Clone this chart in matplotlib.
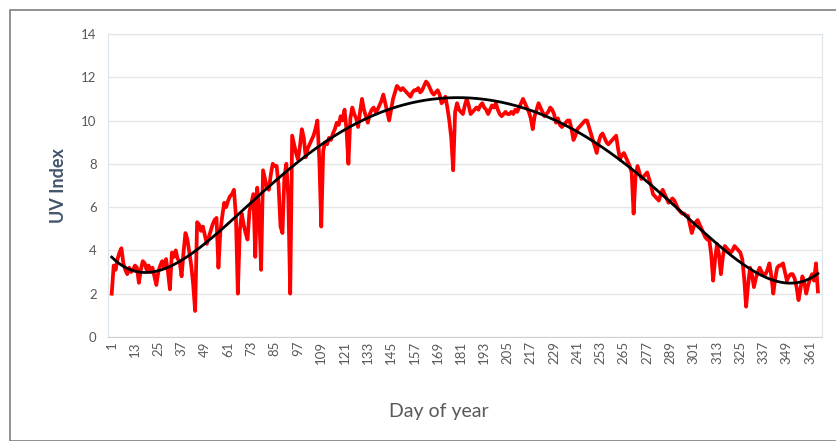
import numpy as np
import matplotlib.pyplot as plt
from matplotlib.patches import Rectangle

plt.rcParams['font.family'] = ['Lato', 'DejaVu Sans']

# daily UV index, day 1 .. 365
uv_index = [
    2.0, 3.3, 3.1, 3.6, 3.9, 4.1, 3.4, 3.1, 2.9, 3.2, 3.0, 3.1,
    3.3, 3.2, 2.5, 3.1, 3.5, 3.4, 3.1, 3.3, 3.0, 3.2, 2.8, 2.4,
    3.0, 3.3, 3.5, 3.2, 3.6, 3.0, 2.2, 3.9, 3.7, 4.0, 3.6, 3.5,
    2.8, 3.9, 4.8, 4.5, 3.9, 3.3, 2.4, 1.2, 5.3, 5.2, 4.9, 5.1,
    4.7, 4.3, 4.6, 4.9, 5.2, 5.4, 5.5, 3.2, 4.9, 5.6, 6.2, 6.0,
    6.3, 6.5, 6.6, 6.8, 5.6, 2.0, 4.9, 5.7, 5.2, 4.8, 4.5, 5.8,
    6.2, 6.6, 3.7, 6.9, 5.8, 3.1, 7.7, 7.3, 6.9, 6.8, 7.5, 8.0,
    7.9, 7.9, 7.0, 5.1, 4.8, 7.4, 8.0, 6.5, 2.0, 9.3, 8.9, 8.5,
    8.2, 8.8, 9.6, 9.2, 8.3, 8.7, 8.9, 9.1, 9.3, 9.6, 10.0, 8.2,
    5.1, 8.6, 9.0, 8.9, 9.2, 9.1, 9.4, 9.6, 9.9, 9.8, 10.2, 10.0,
    10.5, 9.6, 8.0, 10.1, 10.6, 10.3, 10.1, 9.7, 10.4, 11.0, 10.5, 10.2,
    9.9, 10.3, 10.5, 10.6, 10.4, 10.5, 10.7, 10.9, 11.2, 10.8, 10.4, 10.0,
    10.5, 11.0, 11.3, 11.6, 11.5, 11.4, 11.5, 11.4, 11.3, 11.2, 11.1, 11.3,
    11.4, 11.4, 11.5, 11.3, 11.4, 11.6, 11.8, 11.7, 11.5, 11.3, 11.2, 11.3,
    11.4, 11.2, 10.8, 10.9, 11.1, 10.6, 10.0, 9.2, 7.7, 10.4, 10.8, 10.5,
    10.4, 10.3, 10.7, 11.0, 10.7, 10.3, 10.4, 10.5, 10.6, 10.5, 10.7, 10.8,
    10.6, 10.5, 10.3, 10.5, 10.7, 10.6, 10.8, 10.5, 10.3, 10.2, 10.3, 10.4,
    10.3, 10.3, 10.4, 10.3, 10.5, 10.4, 10.6, 10.8, 11.0, 10.8, 10.6, 10.4,
    10.1, 9.6, 10.2, 10.5, 10.8, 10.6, 10.4, 10.2, 10.3, 10.4, 10.6, 10.5,
    10.3, 9.9, 10.1, 9.8, 9.7, 9.8, 9.9, 10.0, 10.0, 9.6, 9.1, 9.3,
    9.6, 9.7, 9.8, 9.9, 10.0, 10.0, 9.7, 9.4, 9.1, 8.8, 8.5, 9.0,
    9.3, 9.4, 9.2, 9.0, 8.9, 9.0, 9.1, 9.2, 9.3, 8.7, 8.2, 8.4,
    8.5, 8.3, 8.1, 7.9, 7.6, 5.7, 7.4, 7.9, 7.6, 7.3, 7.4, 7.5,
    7.6, 7.3, 7.0, 6.6, 6.5, 6.4, 6.3, 6.6, 6.8, 6.6, 6.4, 6.2,
    6.3, 6.4, 6.3, 6.1, 5.9, 5.8, 5.7, 5.7, 5.6, 5.6, 5.2, 4.8,
    5.1, 5.3, 5.4, 5.2, 5.0, 4.8, 4.6, 4.5, 4.5, 3.8, 2.6, 3.6,
    4.3, 3.8, 2.9, 3.7, 4.2, 4.1, 4.0, 3.9, 4.0, 4.2, 4.1, 4.0,
    3.9, 3.6, 2.7, 1.4, 2.4, 3.2, 2.9, 2.3, 2.7, 3.0, 3.2, 3.0,
    2.9, 2.9, 3.1, 3.4, 2.8, 2.0, 2.7, 3.2, 3.3, 3.3, 3.4, 3.0,
    2.6, 2.8, 2.9, 2.9, 2.7, 2.3, 1.7, 2.2, 2.8, 2.5, 2.0, 2.4,
    2.7, 2.9, 2.6, 3.4, 2.1,
]
days = np.arange(1, len(uv_index) + 1)
tick_days = list(range(1, 366, 12))
y_ticks = [0, 2, 4, 6, 8, 10, 12, 14]

# polynomial trendline through the daily values
t = (days - 183) / 182
coef = np.polyfit(t, uv_index, 6)
trend = np.polyval(coef, t)

fig = plt.figure(figsize=(8.36, 4.41), dpi=100)
ax = fig.add_axes([0.129, 0.236, 0.854, 0.687])

ax.plot(days, uv_index, color='#ff0000', lw=2.7, solid_joinstyle='round')
ax.plot(days, trend, color='black', lw=2.0)

ax.set_xlim(-1, 367)
ax.set_ylim(0, 14)
ax.set_xticks(tick_days)
ax.set_xticklabels([str(d) for d in tick_days], rotation=90)
ax.set_yticks(y_ticks)
ax.tick_params(axis='both', length=0, labelsize=9.5, labelcolor='#595959')
ax.tick_params(axis='x', pad=3)
ax.tick_params(axis='y', pad=8)
ax.grid(axis='y', color='#e6e6e6', lw=1)
ax.set_axisbelow(True)
for side in ['top', 'right', 'left']:
    ax.spines[side].set_color('#dce4ec')
ax.spines['bottom'].set_color('#d0d0d0')

ax.set_ylabel('UV Index', fontsize=13, fontweight='bold', color='#44546a', labelpad=10)
fig.text(0.525, 0.055, 'Day of year', ha='center', fontsize=14, color='#595959')

# outer frame
fig.patches.append(Rectangle((0.012, 0.0), 0.99, 0.977, transform=fig.transFigure,
                             fill=False, ec='#7f7f7f', lw=1.2))

fig.savefig('out.png', dpi=100)
